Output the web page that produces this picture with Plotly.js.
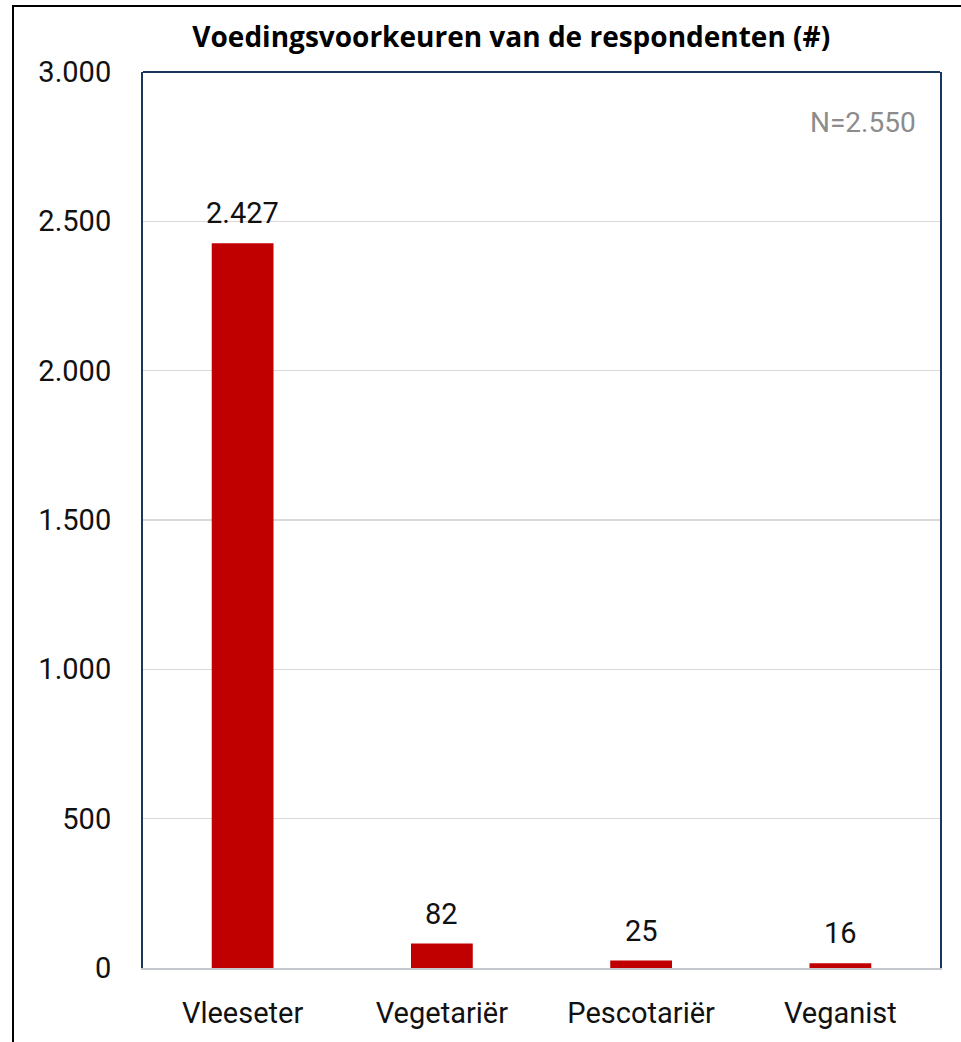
<!DOCTYPE html>
<html>
<head>
<meta charset="utf-8">
<script src="https://cdn.plot.ly/plotly-3.0.1.min.js"></script>
<style>
  html, body { margin: 0; padding: 0; background: #fff; overflow: hidden; }
  #frame { position: absolute; left: 12px; top: 5px; width: 1000px; height: 1100px; border: 2px solid #000; box-sizing: border-box; pointer-events: none; z-index: 5; }
  #chart { position: absolute; left: 0; top: 0; width: 961px; height: 1042px; }
</style>
</head>
<body>
<div id="chart"></div>
<div id="frame"></div>
<script>
const categories = ["Vleeseter", "Vegetariër", "Pescotariër", "Veganist"];
const values = [2427, 82, 25, 16];
const valueLabels = ["2.427", "82", "25", "16"];
const yTickValues = [0, 500, 1000, 1500, 2000, 2500, 3000];
const yTickLabels = ["0", "500", "1.000", "1.500", "2.000", "2.500", "3.000"];
const chartTitle = "Voedingsvoorkeuren van de respondenten (#)";
const noteText = "N=2.550";

const font = "Roboto, 'Open Sans', sans-serif";

const trace = {
  type: "bar",
  x: categories,
  y: values,
  marker: { color: "#c00000" },
  hoverinfo: "x+y"
};

const labelAnnotations = categories.map((c, i) => ({
  x: c, y: values[i], xref: "x", yref: "y",
  text: valueLabels[i], showarrow: false,
  yanchor: "bottom", yshift: 11,
  font: { family: font, size: 29, color: "#111" }
}));

const layout = {
  width: 961, height: 1042,
  margin: { l: 143, r: 21, t: 72, b: 74 },
  paper_bgcolor: "#fff", plot_bgcolor: "#fff",
  showlegend: false,
  bargap: 0.69,
  font: { family: font, size: 29, color: "#111" },
  title: {
    text: "<b>" + chartTitle + "</b>",
    xref: "container", yref: "container",
    x: 0.532, y: 0.9645, xanchor: "center", yanchor: "middle",
    font: { family: "'Open Sans', Roboto, sans-serif", size: 28, color: "#000" }
  },
  xaxis: {
    type: "category",
    showline: true, linecolor: "#c4c8cc", linewidth: 2,
    ticks: "", ticklabelstandoff: 18,
    tickfont: { family: font, size: 29, color: "#111" },
    fixedrange: true
  },
  yaxis: {
    range: [0, 3000],
    tickvals: yTickValues, ticktext: yTickLabels,
    showgrid: true, gridcolor: "#d9d9d9", gridwidth: 1.5,
    zeroline: false,
    showline: true, mirror: true, linecolor: "#17375e", linewidth: 2,
    ticks: "", ticklabelstandoff: 24,
    tickfont: { family: font, size: 29, color: "#111" },
    fixedrange: true
  },
  shapes: [
    { type: "line", xref: "paper", yref: "paper", x0: 0, x1: 1, y0: 1, y1: 1,
      line: { color: "#17375e", width: 2 } }
  ],
  annotations: labelAnnotations.concat([
    { xref: "paper", yref: "paper", x: 0.972, y: 0.944, xanchor: "right", yanchor: "middle",
      text: noteText, showarrow: false,
      font: { family: font, size: 28, color: "#8c8c8c" } }
  ])
};

Plotly.newPlot("chart", [trace], layout, { displayModeBar: false, staticPlot: true });
</script>
</body>
</html>
